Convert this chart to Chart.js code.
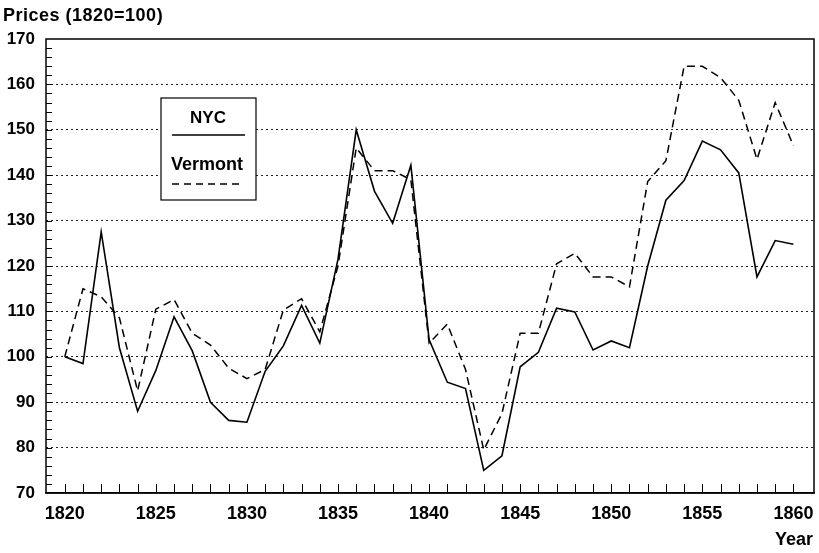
<!DOCTYPE html>
<html>
<head>
<meta charset="utf-8">
<script src="https://cdn.jsdelivr.net/npm/chart.js@4.4.1/dist/chart.umd.min.js"></script>
<style>
  html, body { margin: 0; padding: 0; background: #fff; }
  #wrap { width: 819px; height: 553px; }
</style>
</head>
<body>
<div id="wrap"><canvas id="priceChart"></canvas></div>
<script>
const years = [];
for (let y = 1820; y <= 1860; y++) years.push(y);

const nyc = [100, 98.5, 127.5, 102, 88, 97, 108.8, 101.3, 90, 86, 85.6, 96.8, 102.4, 111.3,
  103, 121.5, 150, 136.5, 129.4, 142.2, 103.8, 94.4, 93, 75, 78.2, 97.8, 101, 110.7, 109.9,
  101.5, 103.5, 102, 120, 134.5, 138.8, 147.5, 145.6, 140.5, 117.6, 125.6, 124.8];

const vermont = [100, 115, 113.2, 108.6, 92.5, 110.5, 112.6, 105.2, 102.6, 97.5, 95.2, 97.2,
  110.3, 112.8, 105.5, 120, 146, 141, 141, 139, 103, 107.2, 97.2, 79.5, 87.5, 105.2, 105.2,
  120.5, 122.8, 117.6, 117.6, 115.4, 138.6, 143.2, 164, 164, 161.5, 156.5, 143.5, 156, 146.5];

const xTicks = [1820, 1825, 1830, 1835, 1840, 1845, 1850, 1855, 1860];
const yTicks = [70, 80, 90, 100, 110, 120, 130, 140, 150, 160, 170];

const FONT = "'Liberation Sans', Arial, Helvetica, sans-serif";

const toPoints = arr => arr.map((v, i) => ({ x: years[i], y: v }));

// frame, inward minor ticks, legend box and axis titles
const decorations = {
  id: 'decorations',
  afterDraw(chart) {
    const { ctx, chartArea: a, scales } = chart;
    const xs = scales.x, ys = scales.y;
    ctx.save();
    ctx.strokeStyle = '#000';
    ctx.lineWidth = 1.5;
    ctx.strokeRect(a.left, a.top, a.right - a.left, a.bottom - a.top);

    ctx.lineWidth = 1;
    ctx.beginPath();
    for (let y = 1820; y <= 1860; y++) {
      const px = Math.round(xs.getPixelForValue(y)) + 0.5;
      ctx.moveTo(px, a.bottom);
      ctx.lineTo(px, a.bottom - 9);
    }
    for (let v = 72; v < 170; v += 2) {
      const py = Math.round(ys.getPixelForValue(v)) + 0.5;
      ctx.moveTo(a.left, py);
      ctx.lineTo(a.left + 6, py);
    }
    ctx.stroke();

    // legend
    ctx.fillStyle = '#fff';
    ctx.fillRect(161, 98, 95, 102);
    ctx.lineWidth = 1.2;
    ctx.strokeRect(161, 98, 95, 102);
    ctx.fillStyle = '#000';
    ctx.textAlign = 'center';
    ctx.textBaseline = 'middle';
    ctx.font = 'bold 17px ' + FONT;
    ctx.fillText('NYC', 208, 118);
    ctx.font = 'bold 18px ' + FONT;
    ctx.fillText('Vermont', 207, 165);
    ctx.lineWidth = 1.5;
    ctx.beginPath();
    ctx.moveTo(172, 135); ctx.lineTo(245, 135);
    ctx.stroke();
    ctx.setLineDash([7, 5]);
    ctx.beginPath();
    ctx.moveTo(172, 184); ctx.lineTo(244, 184);
    ctx.stroke();
    ctx.setLineDash([]);

    // axis titles
    ctx.font = 'bold 18px ' + FONT;
    ctx.textAlign = 'left';
    ctx.letterSpacing = '0.5px';
    ctx.fillText('Prices (1820=100)', 3, 16);
    ctx.letterSpacing = '0px';
    ctx.textAlign = 'right';
    ctx.fillText('Year', 813, 540);
    ctx.restore();
  }
};

new Chart(document.getElementById('priceChart'), {
  type: 'line',
  data: {
    datasets: [
      {
        label: 'NYC',
        data: toPoints(nyc),
        borderColor: '#000',
        borderWidth: 1.6,
        pointRadius: 0,
        tension: 0,
        fill: false
      },
      {
        label: 'Vermont',
        data: toPoints(vermont),
        borderColor: '#000',
        borderWidth: 1.5,
        borderDash: [8, 5],
        pointRadius: 0,
        tension: 0,
        fill: false
      }
    ]
  },
  options: {
    responsive: true,
    maintainAspectRatio: false,
    animation: false,
    layout: { padding: { top: 39, right: 5, left: 0, bottom: 0 } },
    plugins: {
      legend: { display: false },
      tooltip: { enabled: false }
    },
    scales: {
      x: {
        type: 'linear',
        min: 1818.97,
        max: 1861.13,
        afterBuildTicks: s => { s.ticks = xTicks.map(v => ({ value: v })); },
        afterFit: s => { s.height = 60; s.paddingLeft = 0; s.paddingRight = 0; },
        grid: { display: false, drawTicks: false },
        border: { display: true, color: '#000', width: 1.5 },
        ticks: {
          color: '#000',
          padding: 10,
          font: { family: FONT, size: 18, weight: 'bold' },
          callback: v => String(v)
        }
      },
      y: {
        min: 70,
        max: 170,
        afterBuildTicks: s => { s.ticks = yTicks.map(v => ({ value: v })); },
        afterFit: s => { s.width = 46; s.paddingTop = 0; s.paddingBottom = 0; },
        grid: {
          drawTicks: false,
          color: ctx => (ctx.tick && (ctx.tick.value === 70 || ctx.tick.value === 170)) ? 'rgba(0,0,0,0)' : '#222',
          lineWidth: 1
        },
        // in v4 border.dash is what dashes the grid lines; the frame is redrawn solid by the plugin
        border: { display: false, color: '#000', width: 1.5, dash: [2, 3] },
        ticks: {
          color: '#000',
          padding: 11,
          font: { family: FONT, size: 17, weight: 'bold' }
        }
      }
    }
  },
  plugins: [decorations]
});
</script>
</body>
</html>
